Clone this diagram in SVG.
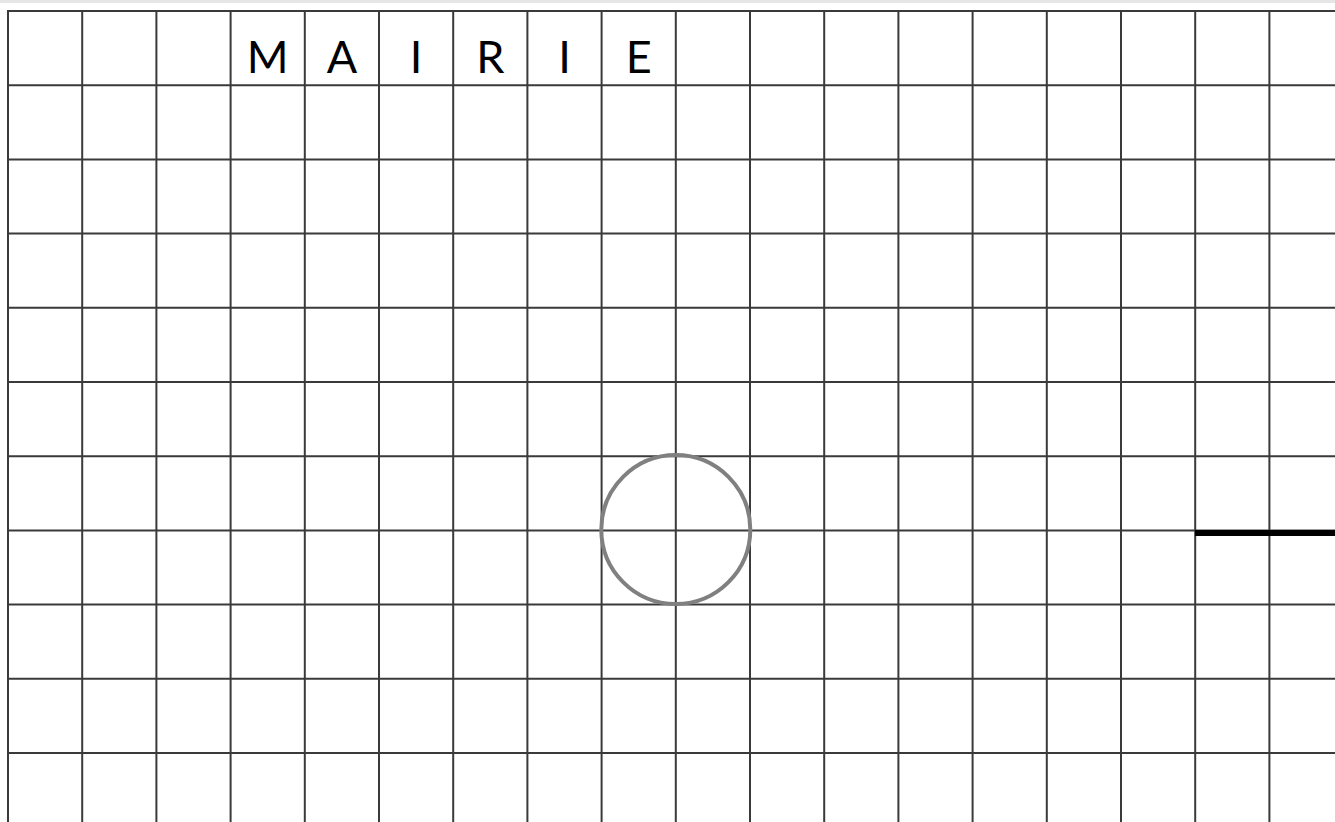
<svg xmlns="http://www.w3.org/2000/svg" width="1335" height="822" viewBox="0 0 1335 822">
<style>
.g line{stroke:#3a3a3a;stroke-width:2}
.t{font-family:Lato,"Liberation Sans",sans-serif;font-size:45px;fill:#000;text-anchor:middle}
</style>
<rect x="0" y="0" width="1335" height="822" fill="#fff"/>
<rect x="0" y="0" width="1335" height="3" fill="#e6e6e6"/>
<g id="grid" class="g">
<line x1="8" y1="11" x2="8" y2="822"/>
<line x1="82.2" y1="11" x2="82.2" y2="822"/>
<line x1="156.4" y1="11" x2="156.4" y2="822"/>
<line x1="230.6" y1="11" x2="230.6" y2="822"/>
<line x1="304.8" y1="11" x2="304.8" y2="822"/>
<line x1="379" y1="11" x2="379" y2="822"/>
<line x1="453.2" y1="11" x2="453.2" y2="822"/>
<line x1="527.4" y1="11" x2="527.4" y2="822"/>
<line x1="601.6" y1="11" x2="601.6" y2="822"/>
<line x1="675.8" y1="11" x2="675.8" y2="822"/>
<line x1="750" y1="11" x2="750" y2="822"/>
<line x1="824.2" y1="11" x2="824.2" y2="822"/>
<line x1="898.4" y1="11" x2="898.4" y2="822"/>
<line x1="972.6" y1="11" x2="972.6" y2="822"/>
<line x1="1046.8" y1="11" x2="1046.8" y2="822"/>
<line x1="1121" y1="11" x2="1121" y2="822"/>
<line x1="1195.2" y1="11" x2="1195.2" y2="822"/>
<line x1="1269.4" y1="11" x2="1269.4" y2="822"/>
<line x1="7" y1="11" x2="1335" y2="11"/>
<line x1="7" y1="85.2" x2="1335" y2="85.2"/>
<line x1="7" y1="159.4" x2="1335" y2="159.4"/>
<line x1="7" y1="233.6" x2="1335" y2="233.6"/>
<line x1="7" y1="307.8" x2="1335" y2="307.8"/>
<line x1="7" y1="382" x2="1335" y2="382"/>
<line x1="7" y1="456.2" x2="1335" y2="456.2"/>
<line x1="7" y1="530.4" x2="1335" y2="530.4"/>
<line x1="7" y1="604.6" x2="1335" y2="604.6"/>
<line x1="7" y1="678.8" x2="1335" y2="678.8"/>
<line x1="7" y1="753" x2="1335" y2="753"/>
</g>
<g id="title">
<text class="t" x="267.7" y="73">M</text>
<text class="t" x="341.9" y="73">A</text>
<text class="t" x="416.1" y="73">I</text>
<text class="t" x="490.3" y="73">R</text>
<text class="t" x="564.5" y="73">I</text>
<text class="t" x="638.7" y="73">E</text>
</g>
<g id="circle">
<circle cx="675.8" cy="529.5" r="74.5" fill="none" stroke="#808080" stroke-width="4"/>
</g>
<g id="bar">
<line x1="1195" y1="533" x2="1335" y2="533" stroke="#000" stroke-width="6"/>
</g>
</svg>
